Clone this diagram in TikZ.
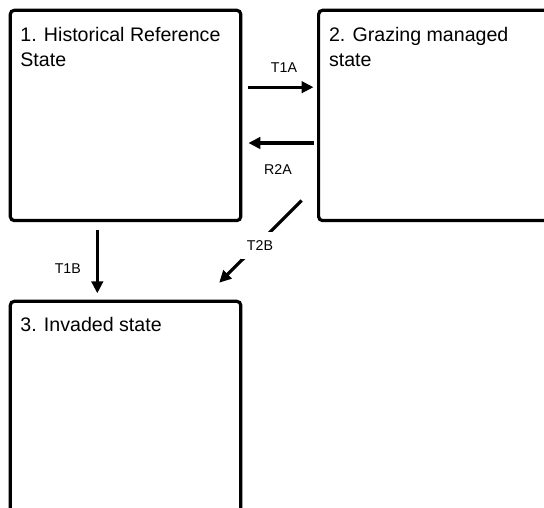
\documentclass[tikz,border=0pt]{standalone}
\usepackage{fontspec}
\setmainfont{Liberation Sans}
\usetikzlibrary{calc,arrows.meta}
\tikzset{
  box/.style={draw, line width=3.2pt, rounded corners=4pt, anchor=north west, inner sep=0pt},
  txt/.style={anchor=north west, inner sep=0pt, align=left, font=\fontsize{19.6}{25}\selectfont},
  arr/.style={line width=3.2pt, -{Triangle[length=12pt,width=11.5pt]}},
  lbl/.style={font=\fontsize{14.2}{16}\selectfont, inner sep=0pt}
}
\begin{document}
\begin{tikzpicture}[x=1pt,y=-1pt]
\useasboundingbox (0,0) rectangle (544,508);
\clip (0,0) rectangle (544,508);
\node[box, minimum width=230.5pt, minimum height=210.3pt] (b1) at (8.7,8.7) {};
\node[box, minimum width=260pt, minimum height=210.3pt] (b2) at (317,8.7) {};
\node[box, minimum width=230.5pt, minimum height=240pt] (b3) at (8.7,299.7) {};
\node[txt] (t1) at ($(b1.north west)+(11.5,18.5)$) {1. Historical Reference\\State};
\node[txt] (t2) at ($(b2.north west)+(11.8,18.5)$) {2. Grazing managed\\state};
\node[txt] (t3) at ($(b3.north west)+(11.5,17.8)$) {3. Invaded state};
\draw[arr] ($(b1.north east)+(6,78.5)$) -- ($(b2.north west)+(-3.5,78.5)$)
  node[lbl, midway, xshift=3pt, yshift=19.5pt] (l1) {T1A};
\draw[arr] ($(b2.north west)+(-3.5,134.3)$) -- ($(b1.north east)+(6,134.3)$)
  node[lbl, midway, xshift=-3pt, yshift=-27pt] (l2) {R2A};
\draw[arr] ($(b1.south west)+(88.6,7.7)$) -- ($(b3.north west)+(88.6,-6.4)$)
  node[lbl, midway, xshift=-29.5pt, yshift=-7pt] (l3) {T1B};
\draw[arr] ($(b2.south west)+(-15.3,-21.7)$) -- ($(b3.north east)+(-23.2,-17)$)
  node[lbl, pos=0.5, fill=white, inner xsep=6pt, inner ysep=8.5pt, xshift=-0.5pt, yshift=-4pt] (l4) {T2B};
\end{tikzpicture}
\end{document}
